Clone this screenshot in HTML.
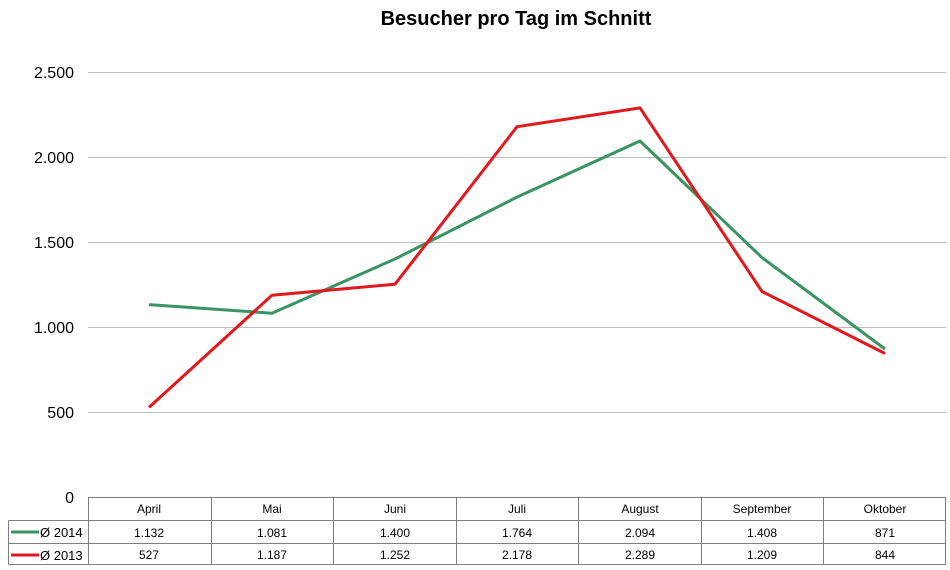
<!DOCTYPE html>
<html><head><meta charset="utf-8"><style>
body{margin:0;background:#fff;width:950px;height:570px;overflow:hidden}
svg{display:block}
text{font-family:"Liberation Sans",Arial,sans-serif}
</style></head><body>
<svg width="950" height="570" xmlns="http://www.w3.org/2000/svg">
<text x="516" y="25" font-size="20" font-weight="bold" text-anchor="middle">Besucher pro Tag im Schnitt</text>
<g stroke="#bdbdbd" stroke-width="1">
<line x1="88" y1="72.5" x2="946" y2="72.5"/>
<line x1="88" y1="157.5" x2="946" y2="157.5"/>
<line x1="88" y1="242.5" x2="946" y2="242.5"/>
<line x1="88" y1="327.5" x2="946" y2="327.5"/>
<line x1="88" y1="412.5" x2="946" y2="412.5"/>
</g>
<g font-size="16" text-anchor="end">
<text x="74" y="78">2.500</text>
<text x="74" y="163">2.000</text>
<text x="74" y="248">1.500</text>
<text x="74" y="333">1.000</text>
<text x="74" y="418">500</text>
<text x="74" y="503">0</text>
</g>
<polyline fill="none" stroke="#3a9461" stroke-width="3" stroke-linejoin="round" points="149,304.6 272,313.2 395,259 517,197.1 640,141 762,257.6 885,349"/>
<polyline fill="none" stroke="#e3181c" stroke-width="3" stroke-linejoin="round" points="149,407.4 272,295.2 395,284.2 517,126.7 640,107.9 762,291.5 885,353.5"/>
<g stroke="#7f7f7f" stroke-width="1" fill="none">
<rect x="88.5" y="497.5" width="857" height="67"/>
<line x1="8.5" y1="520.5" x2="945.5" y2="520.5"/>
<line x1="8.5" y1="543.5" x2="945.5" y2="543.5"/>
<line x1="8.5" y1="564.5" x2="88.5" y2="564.5"/>
<line x1="8.5" y1="520.5" x2="8.5" y2="564.5"/>
<line x1="211.5" y1="497" x2="211.5" y2="565"/>
<line x1="333.5" y1="497" x2="333.5" y2="565"/>
<line x1="456.5" y1="497" x2="456.5" y2="565"/>
<line x1="578.5" y1="497" x2="578.5" y2="565"/>
<line x1="701.5" y1="497" x2="701.5" y2="565"/>
<line x1="823.5" y1="497" x2="823.5" y2="565"/>
</g>
<line x1="11" y1="532" x2="39" y2="532" stroke="#3a9461" stroke-width="3"/>
<line x1="11" y1="555" x2="39" y2="555" stroke="#e3181c" stroke-width="3"/>
<g font-size="13">
<text x="40" y="537">Ø 2014</text>
<text x="40" y="560">Ø 2013</text>
</g>
<g font-size="12" text-anchor="middle">
<text x="149" y="513">April</text><text x="272" y="513">Mai</text><text x="395" y="513">Juni</text><text x="517" y="513">Juli</text><text x="640" y="513">August</text><text x="762" y="513">September</text><text x="885" y="513">Oktober</text>
<text x="149" y="537">1.132</text><text x="272" y="537">1.081</text><text x="395" y="537">1.400</text><text x="517" y="537">1.764</text><text x="640" y="537">2.094</text><text x="762" y="537">1.408</text><text x="885" y="537">871</text>
<text x="149" y="559">527</text><text x="272" y="559">1.187</text><text x="395" y="559">1.252</text><text x="517" y="559">2.178</text><text x="640" y="559">2.289</text><text x="762" y="559">1.209</text><text x="885" y="559">844</text>
</g>
</svg>
</body></html>
